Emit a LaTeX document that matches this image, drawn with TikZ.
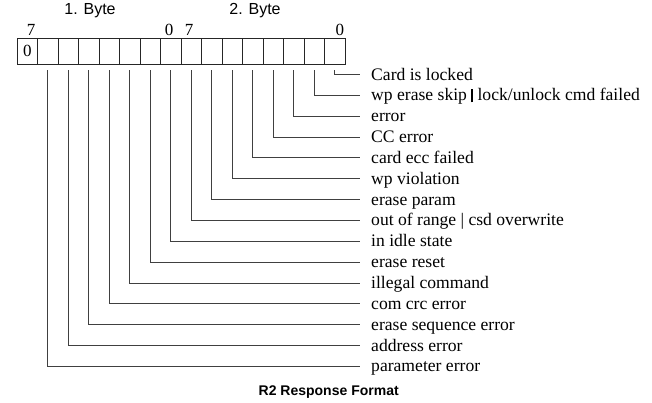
\documentclass[tikz,border=0pt]{standalone}
\usepackage{fontspec}
\setmainfont{Liberation Serif}
\newfontfamily\arialfont{Liberation Sans}
\usetikzlibrary{positioning}

\begin{document}
\begin{tikzpicture}[x=1pt, y=-1pt,
		cell/.style = {draw=black!85, line width=0.9pt, rectangle, minimum width=20.5pt, minimum height=26pt, inner sep=0pt, outer sep=0pt, font=\fontsize{17}{17}\selectfont},
		bitnum/.style = {inner sep=0pt, anchor=base, font=\fontsize{17}{17}\selectfont},
		flag/.style = {anchor=west, inner xsep=11pt, inner ysep=0pt, text height=11pt, text depth=0pt, font=\fontsize{17.6}{17.6}\selectfont},
		wire/.style = {draw=black!75, line width=0.9pt}]
		\useasboundingbox (0,0) rectangle (652,402);

		\node[cell] (c0) at (27.25,51) {0};
		\foreach \i [remember=\i as \j (initially 0)] in {1,...,15}
			\node[cell, right=0pt of c\j] (c\i) {};

		\node[bitnum] (n7a) at ([xshift=3.75pt, yshift=3pt]c0.north) {7};
		\node[bitnum] (n0a) at ([xshift=-1.75pt, yshift=3pt]c7.north) {0};
		\node[bitnum] (n7b) at ([xshift=-2.25pt, yshift=3pt]c8.north) {7};
		\node[bitnum] (n0b) at ([xshift=5pt, yshift=3pt]c15.north) {0};

		\node[font=\arialfont\fontsize{16}{16}\selectfont] (byte1) at (90,11) {1. Byte};
		\node[font=\arialfont\fontsize{16}{16}\selectfont] (byte2) at (255,11) {2. Byte};

		\foreach \txt [count=\k from 0, evaluate=\k as \yy using 74.5+20.85*\k, evaluate=\k as \i using int(15-\k)] in {
				Card is locked,
				wp erase skip \rule[-1.5pt]{1.8pt}{13pt} lock/unlock cmd failed,
				error,
				CC error,
				card ecc failed,
				wp violation,
				erase param,
				out of range | csd overwrite,
				in idle state,
				erase reset,
				illegal command,
				com crc error,
				erase sequence error,
				address error,
				parameter error} {
			\node[flag] (f\k) at (360,\yy) {\txt};
			\draw[wire] ([yshift=-6pt]c\i.south) |- (f\k.west);
		}

		\node[font=\arialfont\bfseries\fontsize{14}{14}\selectfont] (title) at (328.7,392) {R2 Response Format};
	\end{tikzpicture}
\end{document}
